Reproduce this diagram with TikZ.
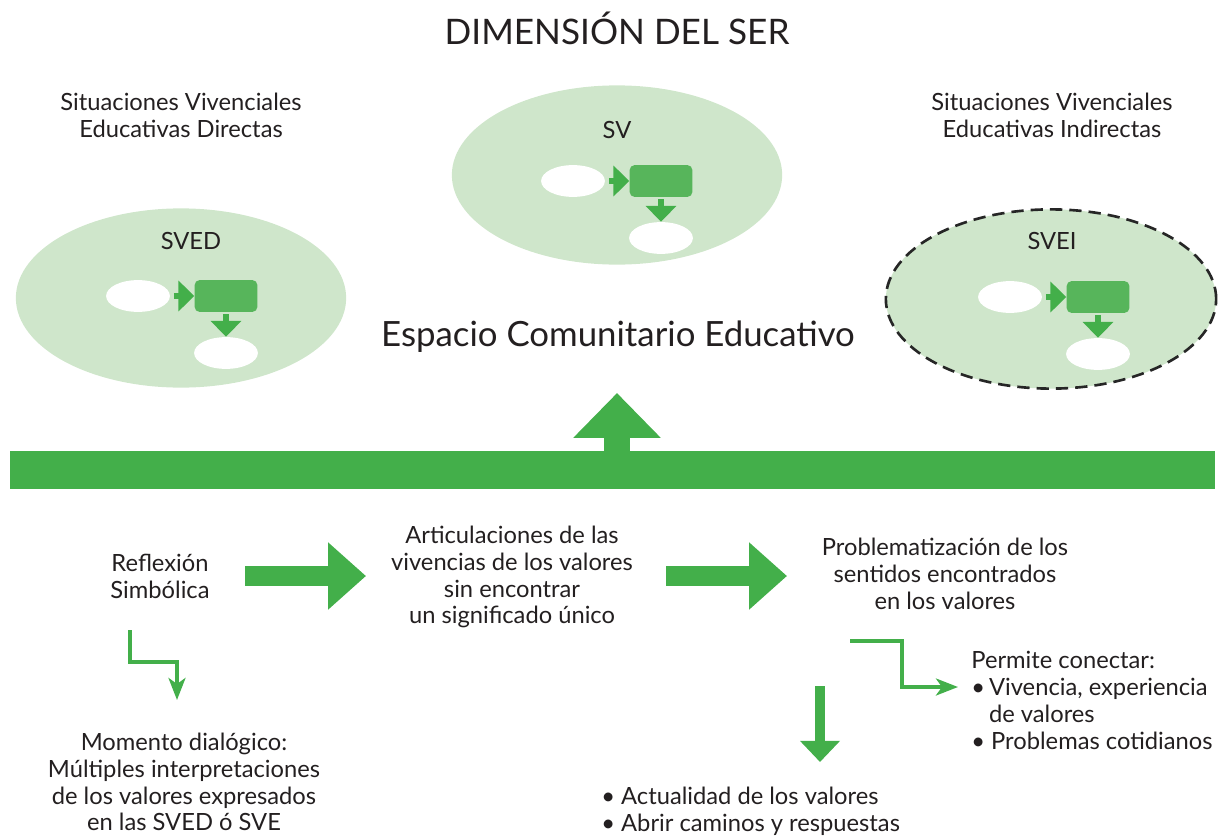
\documentclass[tikz,border=0pt]{standalone}
\usepackage{fontspec}
\setmainfont{Lato}
\usetikzlibrary{arrows.meta,shapes.geometric}

\definecolor{leafgreen}{HTML}{43AF4A}
\definecolor{boxgreen}{HTML}{57B55B}
\definecolor{palegreen}{HTML}{CFE6CB}
\definecolor{inkgray}{HTML}{231F20}

\tikzset{
  txt/.style={inner sep=0pt, text=inkgray, align=center,
    font=\fontsize{13.5}{15.3}\selectfont},
  blob/.style={ellipse, fill=palegreen, inner sep=0pt,
    minimum width=188pt, minimum height=102pt},
  hole/.style={ellipse, fill=white, inner sep=0pt,
    minimum width=36.3pt, minimum height=18.1pt},
  stepbox/.style={rectangle, fill=boxgreen, rounded corners=2.8pt,
    inner sep=0pt, minimum width=35.7pt, minimum height=18.1pt},
  miniarrow/.style={leafgreen, line width=3.7pt,
    -{Triangle[length=9pt, width=17pt]}},
  fatarrow/.style={leafgreen, line width=11.9pt,
    -{Triangle[length=21.5pt, width=36.8pt]}},
  bentarrow/.style={leafgreen, line width=2.3pt,
    -{Stealth[length=12.5pt, width=9.6pt, inset=3.4pt]}},
}

\begin{document}
\begin{tikzpicture}[x=0.02cm, y=-0.02cm]
  \useasboundingbox (0,0) rectangle (1219,838);

  % title
  \node[txt, font=\fontsize{20}{23}\selectfont] (title) at (617,28) {DIMENSIÓN DEL SER};

  % the three situation blobs
  \node[blob] (sved) at (181,298) {};
  \node[blob] (sv) at (617,175) {};
  \node[blob, draw=black!85, line width=1.5pt, dash pattern=on 7pt off 4pt] (svei) at (1051,299) {};

  \node[txt] (sved lbl) at (191,241) {SVED};
  \node[txt] (sv lbl) at (617,130) {SV};
  \node[txt] (svei lbl) at (1052,241) {SVEI};

  \node[txt] (direct) at (181,115) {Situaciones Vivenciales\\Educativas Directas};
  \node[txt] (indirect) at (1052,115) {Situaciones Vivenciales\\Educativas Indirectas};

  % small flow inside each blob
  \foreach \tag/\bx/\by in {sved/226/296, sv/661/181, svei/1098/297} {
    \node[stepbox] (\tag-box) at (\bx,\by) {};
    \node[hole] (\tag-in) at (\bx-88,\by) {};
    \node[hole] (\tag-out) at (\bx,\by+57) {};
    \draw[miniarrow, shorten <=2pt] (\tag-in.east) -- (\tag-box.west);
    \draw[miniarrow, shorten <=1pt] (\tag-box.south) -- (\tag-out.north);
  }

  \node[txt, font=\fontsize{19.8}{22}\selectfont] (space) at (618,337) {Espacio Comunitario Educativo};

  % green bar with upward arrow
  \node[rectangle, fill=leafgreen, inner sep=0pt, minimum width=685.4pt,
    minimum height=21.5pt, anchor=north west] (bar) at (10,451) {};
  \coordinate (uptip) at (617,393);
  \draw[leafgreen, line width=15.3pt, -{Triangle[length=25.5pt, width=48.2pt]}]
    (bar.north -| uptip) -- (uptip);

  % lower row
  \node[txt] (refl) at (160,576) {Reflexión\\Simbólica};
  \node[txt] (arti) at (512,577) {Articulaciones de las\\vivencias de los valores\\sin encontrar\\un significado único};
  \node[txt] (prob) at (945,574) {Problematización de los\\sentidos encontrados\\en los valores};

  \coordinate (f1a) at (245,576);
  \coordinate (f1b) at (366,576);
  \coordinate (f2a) at (666,576);
  \coordinate (f2b) at (787,576);
  \draw[fatarrow] (f1a) -- (f1b);
  \draw[fatarrow] (f2a) -- (f2b);

  % bent arrows
  \coordinate (b1a) at (130,630);
  \coordinate (b1b) at (177,700);
  \draw[bentarrow] (b1a) |- (177,662) -- (b1b);

  \coordinate (b2a) at (850,641);
  \coordinate (b2b) at (958,687);
  \draw[bentarrow] (b2a) -| (902,687) -- (b2b);

  \coordinate (d1a) at (820,686);
  \coordinate (d1b) at (820,762);
  \draw[leafgreen, line width=5.7pt, -{Triangle[length=12pt, width=22pt]}] (d1a) -- (d1b);

  % texts at the bottom
  \node[txt] (moment) at (184,782) {Momento dialógico:\\Múltiples interpretaciones\\de los valores expresados\\en las SVED ó SVE};
  \node[txt, align=left, anchor=north west] (connect) at (971,651)
    {Permite conectar:\\\textbullet\,Vivencia, experiencia\\\hphantom{\textbullet\,}de valores\\\textbullet\ Problemas cotidianos};
  \node[txt, align=left, anchor=north west] (current) at (601,787)
    {\textbullet\ Actualidad de los valores\\\textbullet\ Abrir caminos y respuestas};
\end{tikzpicture}
\end{document}
